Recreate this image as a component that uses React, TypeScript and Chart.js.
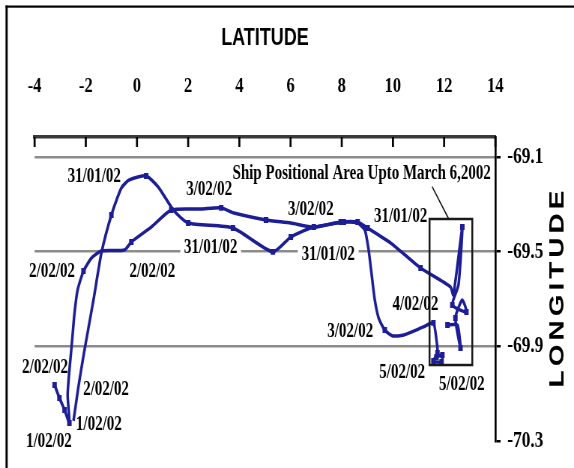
import React, { useEffect, useRef } from "react";
import { Chart, registerables } from "chart.js";

Chart.register(...registerables);

// ---- data ----
const latitudeTicks = [-4, -2, 0, 2, 4, 6, 8, 10, 12, 14];
const longitudeTicks = [-70.3, -69.9, -69.5, -69.1];

const trackALat = [
  -2.48, -2.29, -2.05, -1.7, -1.39, -1.0, -0.61, -0.3, 0.36, 0.83, 1.42, 2.0, 3.75, 5.31, 6.01, 6.79,
  8.08, 8.62, 8.9, 9.05, 9.17, 9.29, 9.44, 9.68, 9.99, 10.42, 11.19, 11.58, 11.7, 11.74, 11.58, 11.9,
  11.93, 11.7,
];
const trackALon = [
  -70.215, -70.072, -69.915, -69.704, -69.506, -69.345, -69.231, -69.197, -69.18, -69.227, -69.324,
  -69.379, -69.4, -69.501, -69.438, -69.4, -69.375, -69.379, -69.408, -69.493, -69.599, -69.704,
  -69.78, -69.831, -69.856, -69.852, -69.818, -69.801, -69.873, -69.928, -69.962, -69.966, -69.937,
  -69.945,
];
const trackAMarkers = [5, 8, 11, 12, 13, 14, 16, 23, 27, 29, 30, 31, 32, 33];

const trackBLat = [
  -3.22, -3.03, -2.83, -2.64, -2.71, -2.64, -2.56, -2.44, -2.32, -2.09, -1.78, -1.39, -0.49, -0.22,
  0.56, 1.34, 2.51, 3.29, 3.79, 5.04, 6.01, 6.91, 7.96, 8.62, 9.01, 9.91, 11.08, 12.25, 12.36, 12.71,
  12.56, 12.32, 12.87, 12.71, 12.44, 12.64, 12.52, 12.13,
];
const trackBLon = [
  -70.063, -70.118, -70.169, -70.224, -70.106, -70.0, -69.907, -69.759, -69.662, -69.582, -69.527,
  -69.497, -69.493, -69.459, -69.396, -69.324, -69.32, -69.315, -69.337, -69.366, -69.379, -69.396,
  -69.375, -69.375, -69.4, -69.463, -69.569, -69.649, -69.683, -69.396, -69.641, -69.725, -69.755,
  -69.704, -69.78, -69.907, -69.81, -69.81,
];
const trackBMarkers = [0, 1, 2, 3, 9, 13, 15, 17, 19, 21, 22, 23, 24, 26, 29, 31, 32, 34, 35, 37];

const dateLabels = [
  "31/01/02", "3/02/02", "3/02/02", "31/01/02", "31/01/02", "31/01/02", "2/02/02", "2/02/02",
  "4/02/02", "3/02/02", "5/02/02", "5/02/02", "2/02/02", "2/02/02", "1/02/02", "1/02/02",
];
const dateLabelLat = [-1.67, 2.82, 6.79, 10.3, 2.88, 7.47, -3.32, 0.6, 10.88, 8.33, 10.36, 12.69, -3.59, -1.21, -1.49, -3.44];
const dateLabelLon = [
  -69.183, -69.239, -69.324, -69.354, -69.485, -69.514, -69.585, -69.585, -69.725, -69.838, -70.013,
  -70.063, -69.992, -70.085, -70.232, -70.303,
];

const areaNote = "Ship Positional Area Upto March 6,2002";
const areaNoteLat = 8.78;
const areaNoteLon = -69.172;
const areaLat = [11.43, 13.1];
const areaLon = [-69.362, -69.979];
const leaderLat = [11.53, 12.18];
const leaderLon = [-69.225, -69.362];

const xTitle = "LATITUDE";
const yTitle = "LONGITUDE";

// ---- styling ----
const CSS_W = 574;
const CSS_H = 468;
const W = 766; // internal canvas width (text appears condensed like the reference)
const H = 468;
const SX = CSS_W / W;
const BLUE = "#1d1d96";
const SERIF = '"Liberation Serif", "Times New Roman", serif';
const SANS = '"Liberation Sans", Arial, sans-serif';
const LABEL_FONT = `bold 20px ${SERIF}`;

const overlay = {
  id: "overlay",
  beforeDatasetsDraw(chart: any) {
    const { ctx, scales } = chart;
    const x = scales.x;
    const y = scales.y;
    ctx.save();
    ctx.font = LABEL_FONT;
    ctx.fillStyle = "#ffffff";
    dateLabels.forEach((t, i) => {
      const px = x.getPixelForValue(dateLabelLat[i]);
      const py = y.getPixelForValue(dateLabelLon[i]);
      const w = ctx.measureText(t).width;
      ctx.fillRect(px - w / 2 - 5, py - 8, w + 10, 16);
    });
    ctx.restore();
  },
  afterDraw(chart: any) {
    const { ctx, scales, chartArea } = chart;
    const x = scales.x;
    const y = scales.y;
    ctx.save();
    // inner tick marks hanging from the top axis
    ctx.strokeStyle = "#000";
    ctx.lineWidth = 2.7;
    latitudeTicks.forEach((v) => {
      const px = x.getPixelForValue(v);
      ctx.beginPath();
      ctx.moveTo(px, chartArea.top);
      ctx.lineTo(px, chartArea.top + 10);
      ctx.stroke();
    });
    // positional area box and leader
    ctx.strokeStyle = "#1a1a1a";
    ctx.lineWidth = 2.5;
    const bx1 = x.getPixelForValue(areaLat[0]);
    const bx2 = x.getPixelForValue(areaLat[1]);
    const by1 = y.getPixelForValue(areaLon[0]);
    const by2 = y.getPixelForValue(areaLon[1]);
    ctx.strokeRect(bx1, by1, bx2 - bx1, by2 - by1);
    ctx.lineWidth = 1.6;
    ctx.beginPath();
    ctx.moveTo(x.getPixelForValue(leaderLat[0]), y.getPixelForValue(leaderLon[0]));
    ctx.lineTo(x.getPixelForValue(leaderLat[1]), y.getPixelForValue(leaderLon[1]));
    ctx.stroke();
    // text labels
    ctx.fillStyle = "#000";
    ctx.font = LABEL_FONT;
    ctx.textAlign = "center";
    ctx.textBaseline = "middle";
    dateLabels.forEach((t, i) => {
      ctx.fillText(t, x.getPixelForValue(dateLabelLat[i]), y.getPixelForValue(dateLabelLon[i]));
    });
    ctx.fillText(areaNote, x.getPixelForValue(areaNoteLat), y.getPixelForValue(areaNoteLon));
    // rotated y title (reads bottom to top)
    ctx.save();
    ctx.translate(558 / SX, 289);
    ctx.rotate(-Math.PI / 2);
    ctx.font = `bold 28px ${SANS}`;
    (ctx as any).letterSpacing = "4px";
    ctx.fillText(yTitle, 2, 0);
    ctx.restore();
    // outer frame
    ctx.fillStyle = "#000";
    ctx.fillRect(5.5 / SX, 5.5, W, 2.2);
    ctx.fillRect(5.5 / SX, 5.5, 2.2 / SX, H);
    ctx.restore();
  },
};

export default function App() {
  const ref = useRef<HTMLCanvasElement | null>(null);
  useEffect(() => {
    if (!ref.current) return;
    const mk = (lat: number[], lon: number[], marks: number[]) => ({
      data: lat.map((v, i) => ({ x: v, y: lon[i] })),
      showLine: true,
      borderColor: BLUE,
      backgroundColor: BLUE,
      borderWidth: 3.5,
      tension: 0.2,
      pointStyle: "rect",
      pointRadius: (c: any) => (marks.includes(c.dataIndex) ? 4.2 : 0),
      pointBorderWidth: 0,
      fill: false,
    });
    const chart = new Chart(ref.current, {
      type: "scatter",
      data: {
        datasets: [mk(trackALat, trackALon, trackAMarkers), mk(trackBLat, trackBLon, trackBMarkers)] as any,
      },
      plugins: [overlay],
      options: {
        animation: false,
        responsive: false,
        devicePixelRatio: 1,
        layout: { padding: { left: 44, right: 0, top: 0, bottom: 27 } },
        plugins: { legend: { display: false }, tooltip: { enabled: false } },
        scales: {
          x: {
            type: "linear",
            position: "top",
            min: -4,
            max: 14,
            afterBuildTicks: (s: any) => {
              s.ticks = latitudeTicks.map((v) => ({ value: v }));
            },
            afterFit: (s: any) => {
              s.height = 137;
            },
            ticks: {
              autoSkip: false,
              maxRotation: 0,
              padding: 37,
              color: "#000",
              font: { family: SERIF, size: 22, weight: "bold" },
              callback: (v: any) => String(v),
            },
            grid: { display: false, drawTicks: false, drawOnChartArea: false },
            border: { display: true, color: "#3a3a3a", width: 3.5 },
            title: {
              display: true,
              text: xTitle,
              color: "#000",
              font: { family: SANS, size: 24, weight: "bold" },
              padding: { top: 24, bottom: 0 },
            },
          },
          y: {
            type: "linear",
            position: "right",
            min: -70.3,
            max: -69.0155,
            afterBuildTicks: (s: any) => {
              s.ticks = longitudeTicks.map((v) => ({ value: v }));
            },
            afterFit: (s: any) => {
              s.width = 105;
            },
            ticks: {
              padding: 9,
              color: "#000",
              font: { family: SERIF, size: 23, weight: "bold" },
              callback: (v: any) => Number(v).toFixed(1),
            },
            grid: {
              color: (c: any) => (c.tick && c.tick.value < -70.2 ? "rgba(0,0,0,0)" : "#8c8c8c"),
              lineWidth: 2.5,
              drawTicks: true,
              tickLength: 7,
              tickColor: "#000",
              tickWidth: 2.5,
            },
            border: { display: true, color: "#000", width: 2.7 },
          },
        },
      } as any,
    });
    return () => chart.destroy();
  }, []);
  return (
    <div style={{ position: "absolute", left: 0, top: 0, width: CSS_W, height: CSS_H, background: "#fff" }}>
      <canvas
        ref={ref}
        width={W}
        height={H}
        style={{ width: `${CSS_W}px`, height: `${CSS_H}px`, display: "block" }}
      />
    </div>
  );
}
